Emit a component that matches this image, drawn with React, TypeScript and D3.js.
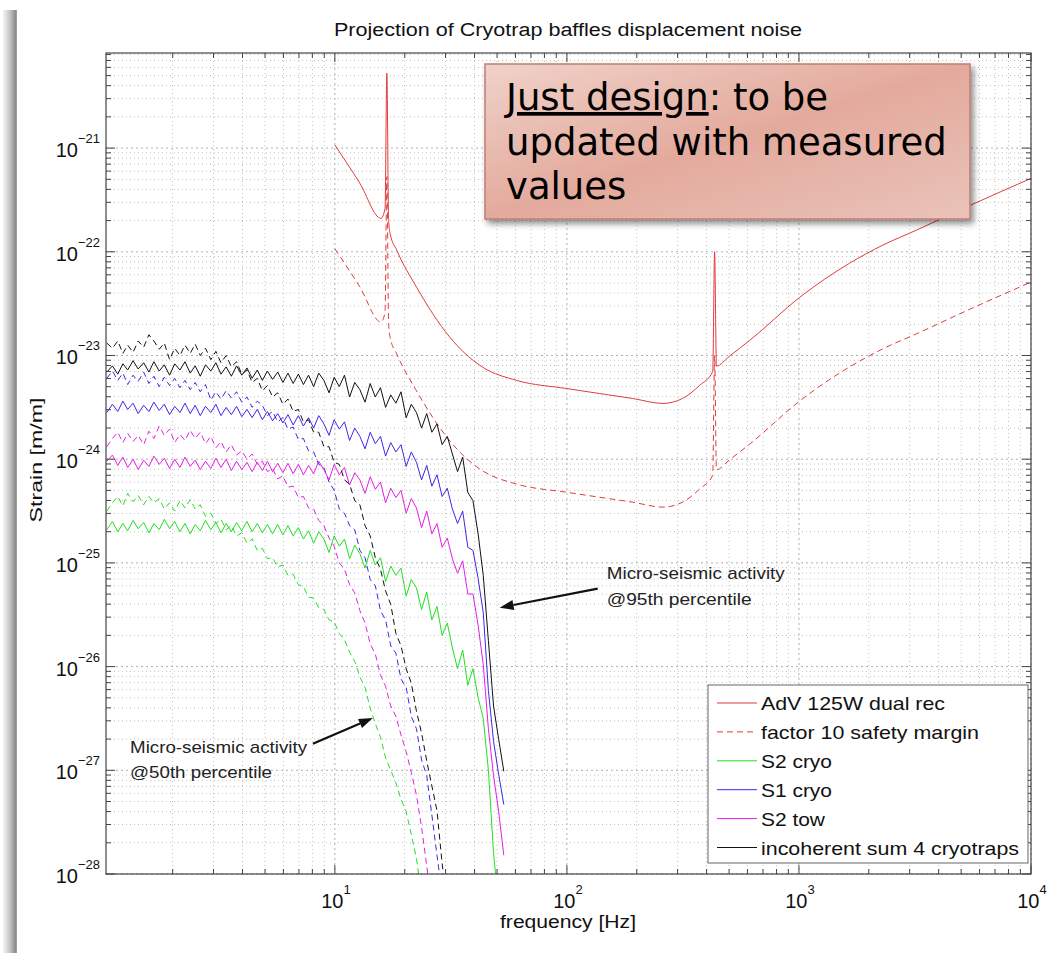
import React from "react";
import * as d3 from "d3";

// ---------- DATA ----------
// Shared frequency grid (Hz) for the micro-seismic projections
const FREQ = [1.04, 1.1, 1.16, 1.22, 1.28, 1.35, 1.42, 1.5, 1.58, 1.66, 1.75, 1.84, 1.94, 2.04, 2.15, 2.26, 2.38, 2.5, 2.63, 2.77, 2.92, 3.07, 3.23, 3.4, 3.58, 3.77, 3.97, 4.18, 4.4, 4.63, 4.87, 5.12, 5.39, 5.67, 5.97, 6.28, 6.61, 6.96, 7.32, 7.7, 8.1, 8.52, 8.97, 9.44, 9.93, 10.45, 11.0, 11.57, 12.18, 12.82, 13.49, 14.2, 14.94, 15.72, 16.54, 17.41, 18.32, 19.28, 20.29, 21.35, 22.47, 23.64, 24.88, 26.18, 27.55, 28.99, 30.51, 32.1, 33.78, 35.55, 37.41, 39.37, 41.43, 43.6, 45.88, 48.28, 50.81, 53.47];

// log10(strain) values
const SUM_95 = [-23.16, -23.10, -23.18, -23.08, -23.14, -23.05, -23.13, -23.07, -23.16, -23.06, -23.15, -23.09, -23.19, -23.08, -23.14, -23.06, -23.17, -23.10, -23.20, -23.09, -23.15, -23.07, -23.18, -23.11, -23.20, -23.10, -23.19, -23.12, -23.22, -23.14, -23.24, -23.15, -23.23, -23.16, -23.26, -23.17, -23.27, -23.18, -23.28, -23.19,
  -23.30, -23.17, -23.24, -23.36, -23.21, -23.30, -23.19, -23.40, -23.26, -23.33, -23.45, -23.27, -23.40, -23.31, -23.50, -23.38, -23.46, -23.35, -23.60, -23.47, -23.55, -23.70, -23.56, -23.74, -23.66, -23.86, -23.78, -23.95, -24.12, -23.98, -24.32, -24.40, -24.72, -25.12, -25.75, -26.38, -26.70, -27.01];
const SUM_50 = [-22.88, -22.93, -22.86, -22.98, -22.90, -22.97, -22.86, -22.92, -22.80, -22.86, -22.94, -22.88, -23.04, -22.93, -23.00, -22.90, -22.98, -22.89, -23.00, -22.93, -23.04, -22.96, -23.07, -23.00, -23.11, -23.06, -23.18, -23.14, -23.26, -23.22, -23.34, -23.29, -23.40, -23.36, -23.47, -23.42, -23.54, -23.52, -23.64, -23.62, -23.74, -23.74, -23.88, -23.88, -24.03, -24.05, -24.20, -24.24, -24.40, -24.44, -24.64, -24.74, -24.95, -25.06, -25.27, -25.40, -25.68, -25.80, -26.02, -26.16, -26.43, -26.64, -26.91, -27.15, -27.39, -27.90, -28.30];
const S1CRYO_95 = [-23.55, -23.47, -23.54, -23.44, -23.52, -23.46, -23.56, -23.48, -23.54, -23.45, -23.53, -23.47, -23.57, -23.49, -23.55, -23.46, -23.56, -23.48, -23.58, -23.49, -23.55, -23.47, -23.58, -23.50, -23.57, -23.49, -23.59, -23.52, -23.60, -23.52, -23.62, -23.54, -23.63, -23.56, -23.65, -23.57, -23.67, -23.58, -23.68, -23.60,
  -23.70, -23.58, -23.66, -23.77, -23.62, -23.71, -23.64, -23.82, -23.70, -23.78, -23.90, -23.74, -23.85, -23.78, -23.97, -23.84, -23.93, -23.86, -24.07, -23.93, -24.03, -24.20, -24.06, -24.26, -24.15, -24.36, -24.28, -24.48, -24.62, -24.50, -24.85, -24.88, -25.15, -25.48, -26.23, -26.72, -27.04, -27.33];
const S1CRYO_50 = [-23.22, -23.15, -23.24, -23.17, -23.28, -23.19, -23.25, -23.16, -23.27, -23.20, -23.30, -23.21, -23.29, -23.22, -23.31, -23.24, -23.33, -23.26, -23.35, -23.28,
  -23.43, -23.35, -23.42, -23.34, -23.41, -23.35, -23.45, -23.40, -23.50, -23.44,
  -23.48, -23.58, -23.54, -23.64, -23.60, -23.71, -23.69, -23.81, -23.80, -23.92,
  -23.93, -24.05, -24.08, -24.22, -24.30, -24.48, -24.52, -24.64,
  -24.68, -24.88, -24.95, -25.16, -25.22, -25.46, -25.55, -25.80, -25.87, -26.12, -26.20, -26.48, -26.60, -26.90, -27.05, -27.43, -27.82, -28.20];
const S2TOW_95 = [-24.02, -23.96, -24.06, -23.98, -24.08, -24.00, -24.10, -24.01, -24.07, -23.97, -24.05, -23.99, -24.09, -24.00, -24.08, -23.98, -24.07, -24.01, -24.10, -24.02, -24.09, -23.99, -24.08, -24.00, -24.11, -24.02, -24.10, -24.03, -24.12, -24.03, -24.11, -24.02, -24.12, -24.04, -24.13, -24.04, -24.14, -24.05, -24.15, -24.06,
  -24.14, -24.02, -24.10, -24.20, -24.05, -24.15, -24.08, -24.25, -24.13, -24.20, -24.33, -24.17, -24.29, -24.22, -24.42, -24.28, -24.37, -24.30, -24.52, -24.38, -24.47, -24.66, -24.50, -24.72, -24.62, -24.85, -24.76, -24.96, -25.10, -24.98, -25.30, -25.30, -25.60, -25.98, -26.60, -27.05, -27.40, -27.82];
const S2TOW_50 = [-23.88, -23.80, -23.74, -23.84, -23.75, -23.83, -23.77, -23.86, -23.73, -23.80, -23.68, -23.77, -23.71, -23.84, -23.76, -23.82, -23.72, -23.80, -23.74, -23.85, -23.78, -23.89, -23.83, -23.93, -23.86, -23.96, -23.92, -24.00, -23.95, -24.05, -24.02, -24.12, -24.09, -24.19, -24.16, -24.27, -24.26, -24.37, -24.36, -24.47, -24.48, -24.59, -24.64, -24.76, -24.84, -25.00, -25.06, -25.21, -25.29, -25.46, -25.58, -25.78, -25.88, -26.08, -26.19, -26.38, -26.48, -26.66, -26.82, -27.02, -27.24, -27.55, -27.92, -28.30];
const S2CRYO_95 = [-24.68, -24.60, -24.70, -24.62, -24.69, -24.59, -24.67, -24.61, -24.71, -24.62, -24.68, -24.58, -24.67, -24.60, -24.70, -24.62, -24.72, -24.63, -24.69, -24.59, -24.68, -24.61, -24.71, -24.62, -24.70, -24.61, -24.69, -24.60, -24.70, -24.62, -24.71, -24.63, -24.72, -24.63, -24.73, -24.64, -24.74, -24.66, -24.77, -24.69,
  -24.81, -24.70, -24.77, -24.90, -24.74, -24.84, -24.77, -24.96, -24.83, -24.91, -25.05, -24.88, -25.02, -24.95, -25.18, -25.03, -25.12, -25.05, -25.32, -25.16, -25.24, -25.45, -25.28, -25.55, -25.42, -25.70, -25.58, -25.82, -26.02, -25.84, -26.18, -26.02, -26.30, -26.50, -27.00, -27.80, -28.30];
const S2CRYO_50 = [-24.50, -24.42, -24.36, -24.45, -24.33, -24.41, -24.35, -24.44, -24.36, -24.42, -24.38, -24.48, -24.42, -24.50, -24.40, -24.47, -24.39, -24.48, -24.44, -24.55, -24.52, -24.62, -24.58, -24.68, -24.64, -24.74, -24.71, -24.81, -24.77, -24.88, -24.86, -24.96, -24.95, -25.04, -25.02, -25.12, -25.11, -25.21, -25.23, -25.33, -25.34, -25.43, -25.45, -25.55, -25.57, -25.68, -25.74, -25.86, -25.95, -26.10, -26.20, -26.40, -26.55, -26.68, -26.88, -27.00, -27.12, -27.28, -27.40, -27.62, -27.85, -28.20];

// AdV 125W dual recycling design sensitivity
const ADV_FREQ = [10, 12.8, 15.8, 16.45, 16.75, 17.05, 17.3, 18.5, 22.5, 31.3, 36, 43.4, 60.8, 99.8, 138, 192, 259, 315, 373, 425, 433, 441, 500, 614, 1007, 1652, 2300, 3213, 5500, 10000];
const ADV_STRAIN = [1.07e-21, 4.6e-22, 2.1e-22, 2.6e-22, 5.3e-21, 2.0e-22, 1.5e-22, 1.03e-22, 4.55e-23, 1.5e-23, 1.07e-23, 7.7e-24, 5.75e-24, 4.8e-24, 4.3e-24, 3.85e-24, 3.45e-24, 3.85e-24, 5.15e-24, 7.0e-24, 1.0e-22, 7.9e-24, 9.8e-24, 1.4e-23, 3.64e-23, 7.76e-23, 1.16e-22, 1.62e-22, 2.82e-22, 5.1e-22];
const SAFETY_FACTOR = 10;

const X_TICK_EXP = [1, 2, 3, 4];
const Y_TICK_EXP = [-28, -27, -26, -25, -24, -23, -22, -21];

const LEGEND = [
  { label: "AdV 125W dual rec", color: "#e23b3b", dash: false, w: 184 },
  { label: "factor 10 safety margin", color: "#e23b3b", dash: true, w: 218 },
  { label: "S2 cryo", color: "#22e022", dash: false, w: 71 },
  { label: "S1 cryo", color: "#3c28e8", dash: false, w: 71 },
  { label: "S2 tow", color: "#e61ee6", dash: false, w: 64 },
  { label: "incoherent sum 4 cryotraps", color: "#111111", dash: false, w: 258 },
];

const NOISE_SERIES = [
  { values: S2CRYO_50, color: "#22e022", dash: true },
  { values: S2CRYO_95, color: "#22e022", dash: false },
  { values: S1CRYO_50, color: "#3c28e8", dash: true },
  { values: S1CRYO_95, color: "#3c28e8", dash: false },
  { values: S2TOW_50, color: "#e61ee6", dash: true },
  { values: S2TOW_95, color: "#e61ee6", dash: false },
  { values: SUM_50, color: "#111111", dash: true },
  { values: SUM_95, color: "#111111", dash: false },
];

// annotations in data coordinates: [freq, strain]
const NOTES = [
  { lines: ["Micro-seismic activity", "@95th percentile"], widths: [178, 145], text: [148.5, 7.05e-26, 3.95e-26], tail: [135.7, 5.65e-26], tip: [51.3, 3.7e-26] },
  { lines: ["Micro-seismic activity", "@50th percentile"], widths: [177, 142], text: [1.31, 1.47e-27, 8.45e-28], tail: [8.04, 1.8e-27], tip: [14.58, 3.2e-27] },
];

// ---------- LAYOUT ----------
const W = 1054, H = 953;
const PLOT = { left: 106, right: 1031, top: 53, bottom: 874 };
const X_DOMAIN = [1.032, 1e4];
const Y_DOMAIN = [1e-28, 8.26e-21];
const FONT = "'Liberation Sans', Arial, Helvetica, sans-serif";

function arrow(x1: number, y1: number, x2: number, y2: number) {
  const a = Math.atan2(y2 - y1, x2 - x1);
  const len = 14, w = 5;
  const bx = x2 - len * Math.cos(a), by = y2 - len * Math.sin(a);
  const lx = bx - w * Math.sin(a), ly = by + w * Math.cos(a);
  const rx = bx + w * Math.sin(a), ry = by - w * Math.cos(a);
  return { bx, by, pts: `${x2},${y2} ${lx},${ly} ${rx},${ry}` };
}

export default function App() {
  const x = d3.scaleLog().domain(X_DOMAIN).range([PLOT.left, PLOT.right]);
  const y = d3.scaleLog().domain(Y_DOMAIN).range([PLOT.bottom, PLOT.top]);
  const line = d3.line<[number, number]>().x((d) => x(d[0])).y((d) => y(d[1]));
  const smooth = d3.line<[number, number]>().x((d) => x(d[0])).y((d) => y(d[1])).curve(d3.curveMonotoneX);

  const xMajor = X_TICK_EXP.map((e) => Math.pow(10, e));
  const yMajor = Y_TICK_EXP.map((e) => Math.pow(10, e));
  const xMinor: number[] = [];
  for (let k = 0; k <= 3; k++) for (let m = 2; m <= 9; m++) { const v = m * Math.pow(10, k); if (v >= X_DOMAIN[0] && v <= X_DOMAIN[1]) xMinor.push(v); }
  const yMinor: number[] = [];
  for (let k = -28; k <= -21; k++) for (let m = 2; m <= 9; m++) { const v = m * Math.pow(10, k); if (v >= Y_DOMAIN[0] && v <= Y_DOMAIN[1]) yMinor.push(v); }

  const advPts: [number, number][] = ADV_FREQ.map((f, i) => [f, ADV_STRAIN[i]]);
  const advSafe: [number, number][] = ADV_FREQ.map((f, i) => [f, ADV_STRAIN[i] / SAFETY_FACTOR]);

  const legX = 708, legY = 685, legW = 320, legH = 178, rowH = 28.9;

  return (
    <svg width={W} height={H} viewBox={`0 0 ${W} ${H}`} style={{ position: "absolute", left: 0, top: 0, background: "#fff" }}>
      <defs>
        <clipPath id="plotClip">
          <rect x={PLOT.left} y={PLOT.top} width={PLOT.right - PLOT.left} height={PLOT.bottom - PLOT.top} />
        </clipPath>
        <linearGradient id="edge" x1="0" x2="1" y1="0" y2="0">
          <stop offset="0" stopColor="#f4f4f4" />
          <stop offset="0.5" stopColor="#c4c4c4" />
          <stop offset="0.9" stopColor="#8c8c8c" />
          <stop offset="1" stopColor="#a8a8a8" />
        </linearGradient>
        <linearGradient id="boxFill" x1="0" y1="0" x2="1" y2="1">
          <stop offset="0" stopColor="#f0d2ca" />
          <stop offset="0.5" stopColor="#e3aa9c" />
          <stop offset="1" stopColor="#eac3ba" />
        </linearGradient>
        <filter id="shadow" x="-10%" y="-10%" width="130%" height="140%">
          <feDropShadow dx="3" dy="4" stdDeviation="3" floodColor="#000" floodOpacity="0.45" />
        </filter>
      </defs>

      <rect x={0} y={0} width={W} height={H} fill="#fff" />
      <rect x={3} y={10} width={14} height={H - 10} fill="url(#edge)" />

      {/* grid */}
      <g stroke="#c2c2c2" strokeWidth={1} fill="none">
        {xMinor.map((v, i) => (
          <line key={"gx" + i} x1={x(v)} x2={x(v)} y1={PLOT.top} y2={PLOT.bottom} strokeDasharray="1,3" />
        ))}
        {yMinor.map((v, i) => (
          <line key={"gy" + i} x1={PLOT.left} x2={PLOT.right} y1={y(v)} y2={y(v)} strokeDasharray="1,3" />
        ))}
        {xMajor.map((v, i) => (
          <line key={"gX" + i} x1={x(v)} x2={x(v)} y1={PLOT.top} y2={PLOT.bottom} strokeDasharray="2,3" stroke="#b0b0b0" />
        ))}
        {yMajor.map((v, i) => (
          <line key={"gY" + i} x1={PLOT.left} x2={PLOT.right} y1={y(v)} y2={y(v)} strokeDasharray="2,3" stroke="#b0b0b0" />
        ))}
      </g>

      {/* curves */}
      <g clipPath="url(#plotClip)" fill="none" strokeWidth={1}>
        <path d={smooth(advPts) || ""} stroke="#e23b3b" />
        <path d={smooth(advSafe) || ""} stroke="#e23b3b" strokeDasharray="6,4" />
        {NOISE_SERIES.map((s, i) => {
          const pts: [number, number][] = s.values.map((L, j) => [FREQ[j], Math.pow(10, L)]);
          return <path key={"s" + i} d={line(pts) || ""} stroke={s.color} strokeDasharray={s.dash ? "6,4" : undefined} strokeLinejoin="round" />;
        })}
      </g>

      {/* ticks */}
      <g stroke="#444" strokeWidth={1}>
        {xMinor.map((v, i) => (
          <g key={"tx" + i}>
            <line x1={x(v)} x2={x(v)} y1={PLOT.bottom} y2={PLOT.bottom - 5} />
            <line x1={x(v)} x2={x(v)} y1={PLOT.top} y2={PLOT.top + 5} />
          </g>
        ))}
        {xMajor.map((v, i) => (
          <g key={"tX" + i}>
            <line x1={x(v)} x2={x(v)} y1={PLOT.bottom} y2={PLOT.bottom - 9} />
            <line x1={x(v)} x2={x(v)} y1={PLOT.top} y2={PLOT.top + 9} />
          </g>
        ))}
        {yMinor.map((v, i) => (
          <g key={"ty" + i}>
            <line x1={PLOT.left} x2={PLOT.left + 5} y1={y(v)} y2={y(v)} />
            <line x1={PLOT.right} x2={PLOT.right - 5} y1={y(v)} y2={y(v)} />
          </g>
        ))}
        {yMajor.map((v, i) => (
          <g key={"tY" + i}>
            <line x1={PLOT.left} x2={PLOT.left + 9} y1={y(v)} y2={y(v)} />
            <line x1={PLOT.right} x2={PLOT.right - 9} y1={y(v)} y2={y(v)} />
          </g>
        ))}
      </g>
      <rect x={PLOT.left} y={PLOT.top} width={PLOT.right - PLOT.left} height={PLOT.bottom - PLOT.top} fill="none" stroke="#444" strokeWidth={1.2} />

      {/* tick labels */}
      <g fontFamily={FONT} fill="#111">
        {Y_TICK_EXP.map((e, i) => (
          <text key={"ly" + i} x={100} y={y(Math.pow(10, e)) + 9} textAnchor="end" fontSize={20}>
            10<tspan fontSize={13} dy={-14}>{"\u2212" + Math.abs(e)}</tspan>
          </text>
        ))}
        {X_TICK_EXP.map((e, i) => (
          <text key={"lx" + i} x={x(Math.pow(10, e)) + 1} y={908} textAnchor="middle" fontSize={20}>
            10<tspan fontSize={13} dy={-14}>{String(e)}</tspan>
          </text>
        ))}
      </g>

      {/* titles */}
      <text x={568} y={36} textAnchor="middle" fontFamily={FONT} fontSize={18} textLength={468} lengthAdjust="spacingAndGlyphs" fill="#111">
        Projection of Cryotrap baffles displacement noise
      </text>
      <text x={568} y={928} textAnchor="middle" fontFamily={FONT} fontSize={18} textLength={136} lengthAdjust="spacingAndGlyphs" fill="#111">
        frequency [Hz]
      </text>
      <text transform="translate(42,460) rotate(-90)" textAnchor="middle" fontFamily={FONT} fontSize={17} textLength={125} lengthAdjust="spacingAndGlyphs" fill="#111">
        Strain [m/m]
      </text>

      {/* legend */}
      <rect x={legX} y={legY} width={legW} height={legH} fill="#fff" stroke="#666" strokeWidth={1} />
      {LEGEND.map((it, i) => {
        const cy = legY + 18 + i * rowH;
        return (
          <g key={"lg" + i}>
            <line x1={legX + 9} x2={legX + 49} y1={cy} y2={cy} stroke={it.color} strokeWidth={1} strokeDasharray={it.dash ? "6,4" : undefined} />
            <text x={legX + 53} y={cy + 7} fontFamily={FONT} fontSize={19} textLength={it.w} lengthAdjust="spacingAndGlyphs" fill="#111">
              {it.label}
            </text>
          </g>
        );
      })}

      {/* arrows + notes */}
      {NOTES.map((n, i) => {
        const tx = x(n.tail[0]), ty = y(n.tail[1]);
        const hx = x(n.tip[0]), hy = y(n.tip[1]);
        const a = arrow(tx, ty, hx, hy);
        return (
          <g key={"n" + i}>
            <line x1={tx} y1={ty} x2={a.bx} y2={a.by} stroke="#111" strokeWidth={2.2} />
            <polygon points={a.pts} fill="#111" />
            <text x={x(n.text[0])} y={y(n.text[1])} fontFamily={FONT} fontSize={17} textLength={n.widths[0]} lengthAdjust="spacingAndGlyphs" fill="#222">{n.lines[0]}</text>
            <text x={x(n.text[0])} y={y(n.text[2])} fontFamily={FONT} fontSize={17} textLength={n.widths[1]} lengthAdjust="spacingAndGlyphs" fill="#222">{n.lines[1]}</text>
          </g>
        );
      })}

      {/* design note box */}
      <rect x={485} y={64} width={485} height={155} fill="url(#boxFill)" stroke="#bf7f72" strokeWidth={1.5} filter="url(#shadow)" />
      <g fontFamily="'DejaVu Sans', Verdana, sans-serif" fontSize={37} fill="#000">
        <text x={506} y={110}>
          <tspan style={{ textDecoration: "underline" }}>Just design</tspan>: to be
        </text>
        <text x={506} y={155}>updated with measured</text>
        <text x={506} y={199}>values</text>
      </g>
    </svg>
  );
}
